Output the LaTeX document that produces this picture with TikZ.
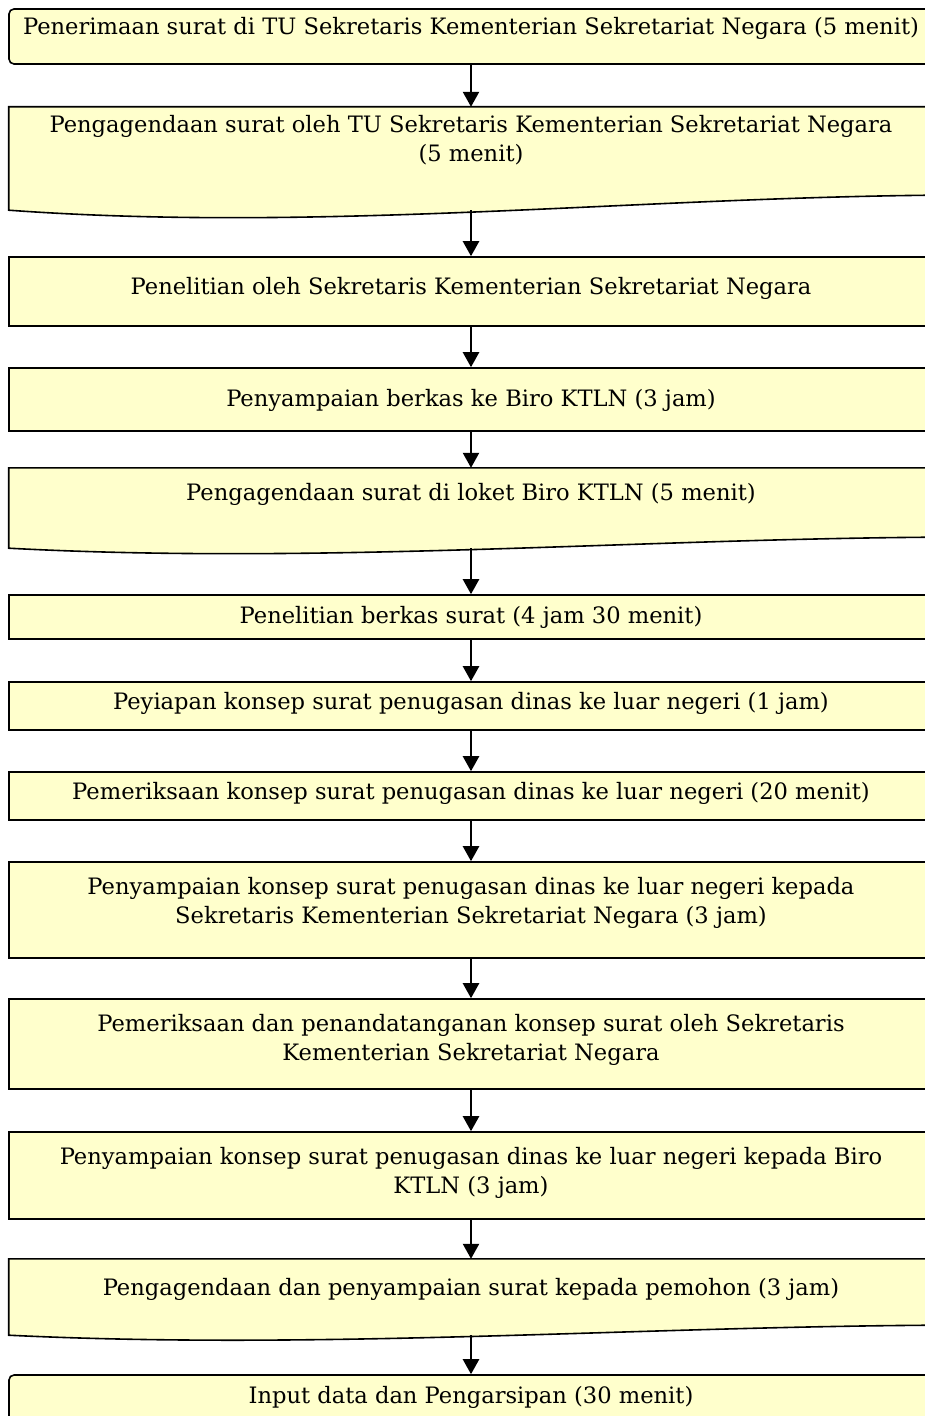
\documentclass[tikz,border=0pt]{standalone}
\usepackage{fontspec}
\setmainfont{DejaVu Serif}
\usetikzlibrary{arrows.meta,calc,backgrounds}
\definecolor{boxfill}{RGB}{255,255,204}
\tikzset{
  flowbox/.style={minimum width=924bp, inner sep=0pt, draw=black, line width=1.6bp, fill=boxfill},
  procbox/.style={flowbox},
  termbox/.style={flowbox, rounded corners=5bp},
  docbox/.style={minimum width=924bp, inner sep=0pt},
  docline/.style={draw=black, line width=1.6bp, fill=boxfill},
  steptext/.style={inner sep=0pt, align=center, font=\fontsize{22.6bp}{29bp}\selectfont},
  flowarr/.style={-{Triangle[length=15bp,width=16bp]}, line width=2.4bp},
}
% wavy "document" outline behind node #1, wave depth #2
\newcommand{\docwave}[2]{%
  \begin{pgfonlayer}{background}
    \draw[docline] (#1.north west) -- (#1.north east) -- ($(#1.south east)+(0,-#2)$)
      .. controls ($(#1.south west)!0.667!(#1.south east)+(0,-0.81*#2)$)
      and ($(#1.south west)!0.333!(#1.south east)+(0,1.49*#2)$) .. (#1.south west) -- cycle;
  \end{pgfonlayer}
}

\begin{document}
\begin{tikzpicture}[x=1bp, y=-1bp]
  \useasboundingbox (0,0) rectangle (924,1416);
  % boxes
  \node[termbox, minimum height=55bp] (b1) at (471,36.5) {};
  \node[docbox, minimum height=103bp] (b2) at (471,158.5) {};
  \docwave{b2}{15}
  \node[procbox, minimum height=69bp] (b3) at (471,291.5) {};
  \node[procbox, minimum height=63bp] (b4) at (471,399.5) {};
  \node[docbox, minimum height=80bp] (b5) at (471,508) {};
  \docwave{b5}{11}
  \node[procbox, minimum height=44bp] (b6) at (471,617) {};
  \node[procbox, minimum height=48bp] (b7) at (471,706) {};
  \node[procbox, minimum height=48bp] (b8) at (471,796) {};
  \node[procbox, minimum height=96bp] (b9) at (471,910) {};
  \node[procbox, minimum height=90bp] (b10) at (471,1044) {};
  \node[procbox, minimum height=87bp] (b11) at (471,1175.5) {};
  \node[docbox, minimum height=76bp] (b12) at (471,1297) {};
  \docwave{b12}{10}
  \node[termbox, minimum height=55bp] (b13) at (471,1402.5) {};
  % texts
  \node[steptext] (t1) at (471,28.5) {Penerimaan surat di TU Sekretaris Kementerian Sekretariat Negara (5 menit)};
  \node[steptext] (t2) at (471,140.5) {Pengagendaan surat oleh TU Sekretaris Kementerian Sekretariat Negara\\(5 menit)};
  \node[steptext] (t3) at (471,288) {Penelitian oleh Sekretaris Kementerian Sekretariat Negara};
  \node[steptext] (t4) at (471,400) {Penyampaian berkas ke Biro KTLN (3 jam)};
  \node[steptext] (t5) at (471,494) {Pengagendaan surat di loket Biro KTLN (5 menit)};
  \node[steptext] (t6) at (471,617) {Penelitian berkas surat (4 jam 30 menit)};
  \node[steptext] (t7) at (471,703) {Peyiapan konsep surat penugasan dinas ke luar negeri (1 jam)};
  \node[steptext] (t8) at (471,793) {Pemeriksaan konsep surat penugasan dinas ke luar negeri (20 menit)};
  \node[steptext] (t9) at (471,903) {Penyampaian konsep surat penugasan dinas ke luar negeri kepada\\Sekretaris Kementerian Sekretariat Negara (3 jam)};
  \node[steptext] (t10) at (471,1040) {Pemeriksaan dan penandatanganan konsep surat oleh Sekretaris\\Kementerian Sekretariat Negara};
  \node[steptext] (t11) at (471,1173) {Penyampaian konsep surat penugasan dinas ke luar negeri kepada Biro\\KTLN (3 jam)};
  \node[steptext] (t12) at (471,1289) {Pengagendaan dan penyampaian surat kepada pemohon (3 jam)};
  \node[steptext] (t13) at (471,1397) {Input data dan Pengarsipan (30 menit)};
  % arrows
  \foreach \a/\b in {b1/b2, b2/b3, b3/b4, b4/b5, b5/b6, b6/b7, b7/b8, b8/b9, b9/b10, b10/b11, b11/b12, b12/b13}
    \draw[flowarr] (\a.south) -- (\b.north);
\end{tikzpicture}
\end{document}
